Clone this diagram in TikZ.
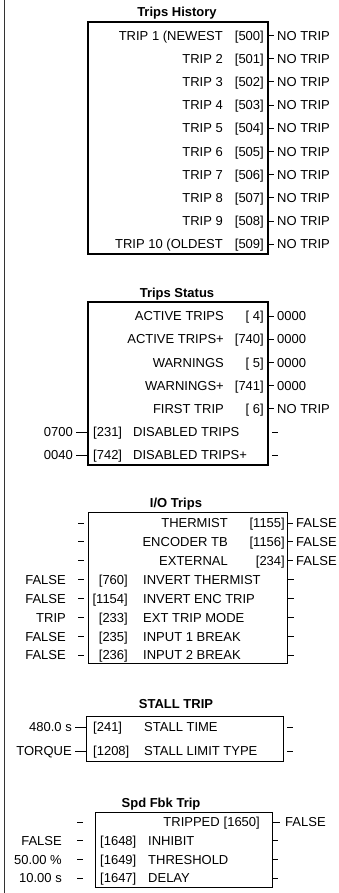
\documentclass[tikz,border=0pt]{standalone}
\usepackage{fontspec}
\setmainfont{Liberation Sans}
\usepackage{tikz}

\tikzset{
  txt/.style={font=\fontsize{13}{15}\selectfont, inner sep=0pt,
    text height=9.3pt, text depth=0pt},
  ttl/.style={txt, font=\fontsize{13}{15}\selectfont\bfseries},
  blk/.style={draw, line width=1pt, anchor=north west, inner sep=0pt, outer sep=0pt},
  stub/.style={line width=1pt}
}

\begin{document}
\begin{tikzpicture}[x=1pt, y=-1pt]

  \useasboundingbox (0,0) rectangle (338,893);

  % column settings, changed for each block
  \newcommand\BK{hist};
  \newcommand\XN{0};  \newcommand\XP{0};  \newcommand\XV{0};  \newcommand\XG{3};
  \newcommand\XL{0};  \newcommand\XA{3};  \newcommand\XB{0};
  \newcommand\XM{0};  \newcommand\XR{0};  \newcommand\ANC{west};

  % output row: name, param, value on the right
  \newcommand\outrow[5]{%
    \node[txt, anchor=east] (#1n) at (\XN,#2) {#3};
    \node[txt, anchor=east] (#1p) at (\XP,#2) {#4};
    \node[txt, anchor=west] (#1v) at (\XV,#2) {#5};
    \draw[stub] (\BK.east |- #1v.west) -- ([xshift=-\XG pt]#1v.west);}

  % input row: value on the left, param, name
  \newcommand\inrow[5]{%
    \node[txt, anchor=east] (#1v) at (\XL,#2) {#3};
    \node[txt, anchor=\ANC] (#1p) at (\XP,#2) {#4};
    \node[txt, anchor=west] (#1n) at (\XM,#2) {#5};
    \draw[stub] ([xshift=\XA pt]#1v.east) -- ([xshift=-\XB pt]\BK.west |- #1v.east);
    \coordinate (#1r) at (\XR,#2);
    \draw[stub] (#1r) -- ++(6,0);}

  \draw[line width=1.6pt, black!80] (4.5,0) -- (4.5,893);

  % Trips History
  \node[ttl] (histT) at (177,12) {Trips History};
  \node[blk, line width=2pt, minimum width=180pt, minimum height=232pt] (hist) at (88,22) {};
  \renewcommand\BK{hist}\renewcommand\XN{223}\renewcommand\XP{264}
  \renewcommand\XV{277}\renewcommand\XG{3}
  \outrow{h1}{35.5}{TRIP 1 (NEWEST}{[500]}{NO TRIP}
  \outrow{h2}{58.7}{TRIP 2}{[501]}{NO TRIP}
  \outrow{h3}{81.9}{TRIP 3}{[502]}{NO TRIP}
  \outrow{h4}{105.1}{TRIP 4}{[503]}{NO TRIP}
  \outrow{h5}{128.3}{TRIP 5}{[504]}{NO TRIP}
  \outrow{h6}{151.5}{TRIP 6}{[505]}{NO TRIP}
  \outrow{h7}{174.7}{TRIP 7}{[506]}{NO TRIP}
  \outrow{h8}{197.9}{TRIP 8}{[507]}{NO TRIP}
  \outrow{h9}{221.1}{TRIP 9}{[508]}{NO TRIP}
  \outrow{h10}{244.3}{TRIP 10 (OLDEST}{[509]}{NO TRIP}

  % Trips Status
  \node[ttl] (statT) at (177,293) {Trips Status};
  \node[blk, line width=2pt, minimum width=180pt, minimum height=163pt] (stat) at (88,302) {};
  \renewcommand\BK{stat}\renewcommand\XN{224}
  \outrow{s1}{316}{ACTIVE TRIPS}{[ 4]}{0000}
  \outrow{s2}{339.2}{ACTIVE TRIPS+}{[740]}{0000}
  \outrow{s3}{362.4}{WARNINGS}{[ 5]}{0000}
  \outrow{s4}{385.6}{WARNINGS+}{[741]}{0000}
  \outrow{s5}{408.8}{FIRST TRIP}{[ 6]}{NO TRIP}
  \renewcommand\XL{73}\renewcommand\XA{3}\renewcommand\XB{0}
  \renewcommand\XP{93}\renewcommand\ANC{west}\renewcommand\XM{133}\renewcommand\XR{272}
  \inrow{s6}{432}{0700}{[231]}{DISABLED TRIPS}
  \inrow{s7}{455}{0040}{[742]}{DISABLED TRIPS+}

  % I/O Trips
  \node[ttl] (ioT) at (176,503) {I/O Trips};
  \node[blk, minimum width=199pt, minimum height=151pt] (io) at (88,512) {};
  \renewcommand\BK{io}\renewcommand\XN{228}\renewcommand\XP{285}
  \renewcommand\XV{296}\renewcommand\XG{3}
  \outrow{i1}{523}{THERMIST}{[1155]}{FALSE}
  \outrow{i2}{541.9}{ENCODER TB}{[1156]}{FALSE}
  \outrow{i3}{560.8}{EXTERNAL}{[234]}{FALSE}
  \coordinate (i1l) at (78,523);   \draw[stub] (i1l) -- ++(6,0);
  \coordinate (i2l) at (78,541.9); \draw[stub] (i2l) -- ++(6,0);
  \coordinate (i3l) at (78,560.8); \draw[stub] (i3l) -- ++(6,0);
  \renewcommand\XL{66}\renewcommand\XA{12}\renewcommand\XB{4}
  \renewcommand\XP{128}\renewcommand\ANC{east}\renewcommand\XM{143}\renewcommand\XR{288}
  \inrow{i4}{579.7}{FALSE}{[760]}{INVERT THERMIST}
  \inrow{i5}{598.6}{FALSE}{[1154]}{INVERT ENC TRIP}
  \inrow{i6}{617.5}{TRIP}{[233]}{EXT TRIP MODE}
  \inrow{i7}{636.4}{FALSE}{[235]}{INPUT 1 BREAK}
  \inrow{i8}{655.3}{FALSE}{[236]}{INPUT 2 BREAK}

  % STALL TRIP
  \node[ttl] (stallT) at (176,704) {STALL TRIP};
  \node[blk, minimum width=197pt, minimum height=45pt] (stall) at (86,716) {};
  \renewcommand\BK{stall}\renewcommand\XL{72}\renewcommand\XA{3}\renewcommand\XB{0}
  \renewcommand\XP{93}\renewcommand\ANC{west}\renewcommand\XM{144}\renewcommand\XR{287}
  \inrow{t1}{727}{480.0 s}{[241]}{STALL TIME}
  \inrow{t2}{751}{TORQUE}{[1208]}{STALL LIMIT TYPE}

  % Spd Fbk Trip
  \node[ttl] (spdT) at (161,803) {Spd Fbk Trip};
  \node[blk, minimum width=177pt, minimum height=75pt] (spd) at (95,812) {};
  \renewcommand\BK{spd}\renewcommand\XN{220}\renewcommand\XP{260}
  \renewcommand\XV{285}\renewcommand\XG{5}
  \outrow{f1}{822}{TRIPPED}{[1650]}{FALSE}
  \coordinate (f1l) at (77,822); \draw[stub] (f1l) -- ++(6,0);
  \renewcommand\XL{62}\renewcommand\XA{15}\renewcommand\XB{12}
  \renewcommand\XP{100}\renewcommand\ANC{west}\renewcommand\XM{148}\renewcommand\XR{272}
  \inrow{f2}{840.7}{FALSE}{[1648]}{INHIBIT}
  \inrow{f3}{859.4}{50.00 \%}{[1649]}{THRESHOLD}
  \inrow{f4}{878.1}{10.00 s}{[1647]}{DELAY}

\end{tikzpicture}
\end{document}
